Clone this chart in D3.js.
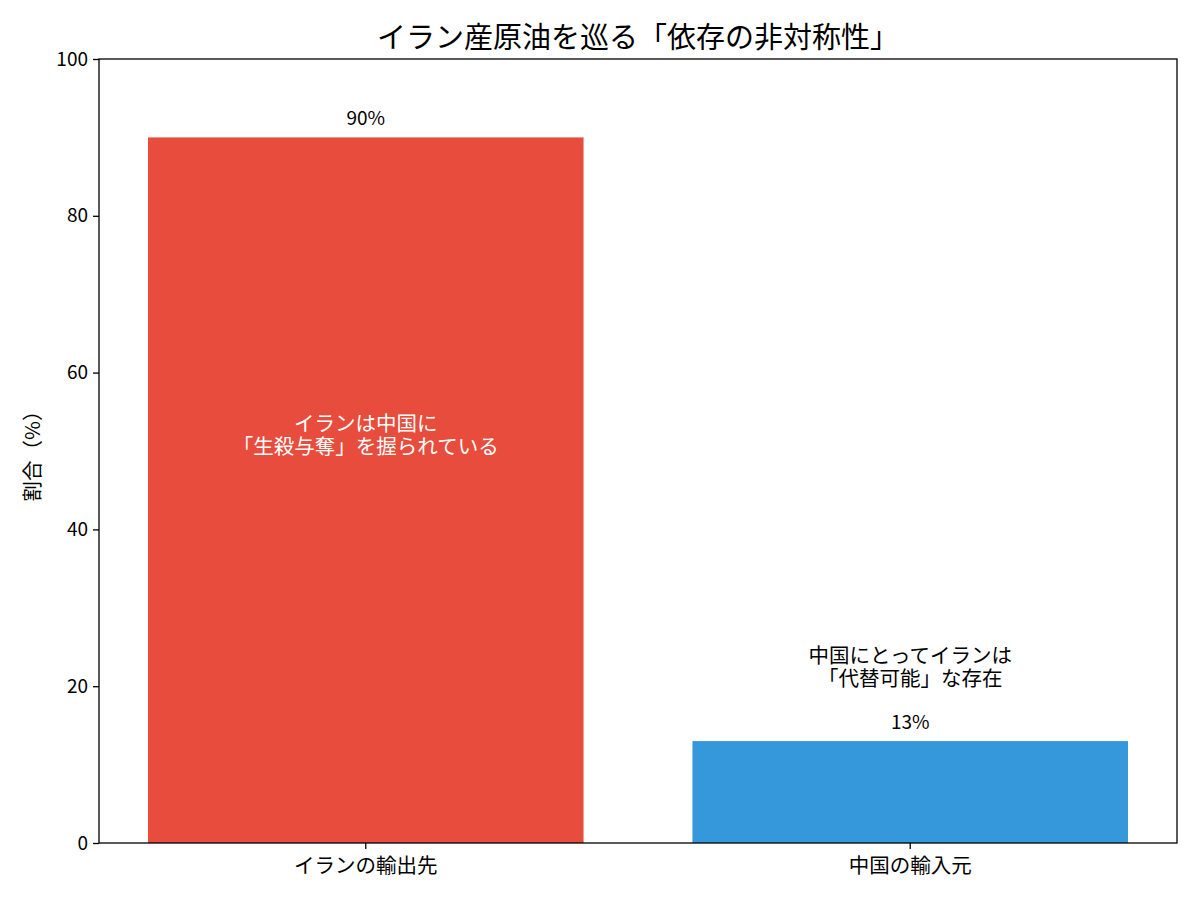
<!DOCTYPE html>
<html>
<head>
<meta charset="utf-8">
<script src="https://cdn.jsdelivr.net/npm/d3@7"></script>
<style>
  body { margin: 0; background: #fff; }
  text { font-family: "Noto Sans CJK JP", "Noto Sans", sans-serif; }
</style>
</head>
<body>
<div id="chart"></div>
<script>
var categories = ['イランの輸出先', '中国の輸入元'],
values = [90, 13],
barColors = ['#e74c3c', '#3498db'],
valueLabels = ['90%', '13%'],
noteLines = [['イランは中国に', '「生殺与奪」を握られている'], ['中国にとってイランは', '「代替可能」な存在']],
notePos = [52, 22.4],
noteColors = ['#ffffff', '#000000'],
yTicks = [0, 20, 40, 60, 80, 100];

var W = 1200, H = 900,
pL = 99, pR = 1177, pT = 59, pB = 843;

var svg = d3.select('#chart').
append('svg').
attr('width', W).
attr('height', H);

var xScale = d3.
scaleBand().
domain(categories).
range([pL, pR]).
paddingInner(0.2).
paddingOuter(0.09);

var yScale = d3.
scaleLinear().
domain([0, 100]).
range([pB, pT]);

// bars
svg.selectAll('rect.bar').
data(values).
enter().
append('rect').
attr('class', 'bar').
attr('x', (d, i) => xScale(categories[i])).
attr('y', d => yScale(d)).
attr('width', xScale.bandwidth()).
attr('height', d => yScale(0) - yScale(d)).
attr('fill', (d, i) => barColors[i]);

// value labels above bars
svg.selectAll('text.val').
data(values).
enter().
append('text').
attr('class', 'val').
attr('x', (d, i) => xScale(categories[i]) + xScale.bandwidth() / 2).
attr('y', d => yScale(d) - 12).
attr('text-anchor', 'middle').
style('font-size', '19px').
text((d, i) => valueLabels[i]);

// notes
noteLines.forEach(function (lines, i) {
  var cx = xScale(categories[i]) + xScale.bandwidth() / 2,
  cy = yScale(notePos[i]);
  var t = svg.append('text').
  attr('text-anchor', 'middle').
  attr('fill', noteColors[i]).
  style('font-size', '20.5px');
  lines.forEach(function (l, j) {
    t.append('tspan').
    attr('x', cx).
    attr('y', cy + (j - (lines.length - 1) / 2) * 23 + 7).
    text(l);
  });
});

// axes
var yAxis = d3.axisLeft(yScale).
tickValues(yTicks).
tickSize(6).
tickPadding(5);
var gy = svg.append('g').
attr('transform', 'translate(' + pL + ',0)').
call(yAxis);
gy.selectAll('text').style('font-size', '19px').attr('fill', '#000');

var xAxis = d3.axisBottom(xScale).
tickSize(6).
tickPadding(9);
var gx = svg.append('g').
attr('transform', 'translate(0,' + pB + ')').
call(xAxis);
gx.selectAll('text').style('font-size', '20.5px').attr('fill', '#000');

[gx, gy].forEach(function (g) {
  g.select('.domain').remove();
  g.selectAll('line').attr('stroke', '#000').attr('stroke-width', 1.3);
});

// frame
svg.append('rect').
attr('x', pL).
attr('y', pT).
attr('width', pR - pL).
attr('height', pB - pT).
attr('fill', 'none').
attr('stroke', '#000').
attr('stroke-width', 1.3);

// title
svg.append('text').
attr('x', (pL + pR) / 2).
attr('y', 48).
attr('text-anchor', 'middle').
style('font-size', '29px').
text('イラン産原油を巡る「依存の非対称性」');

// y label
svg.append('text').
attr('transform', 'translate(40,' + (pT + pB) / 2 + ') rotate(-90)').
attr('text-anchor', 'middle').
style('font-size', '20.5px').
text('割合（%）');
</script>
</body>
</html>
